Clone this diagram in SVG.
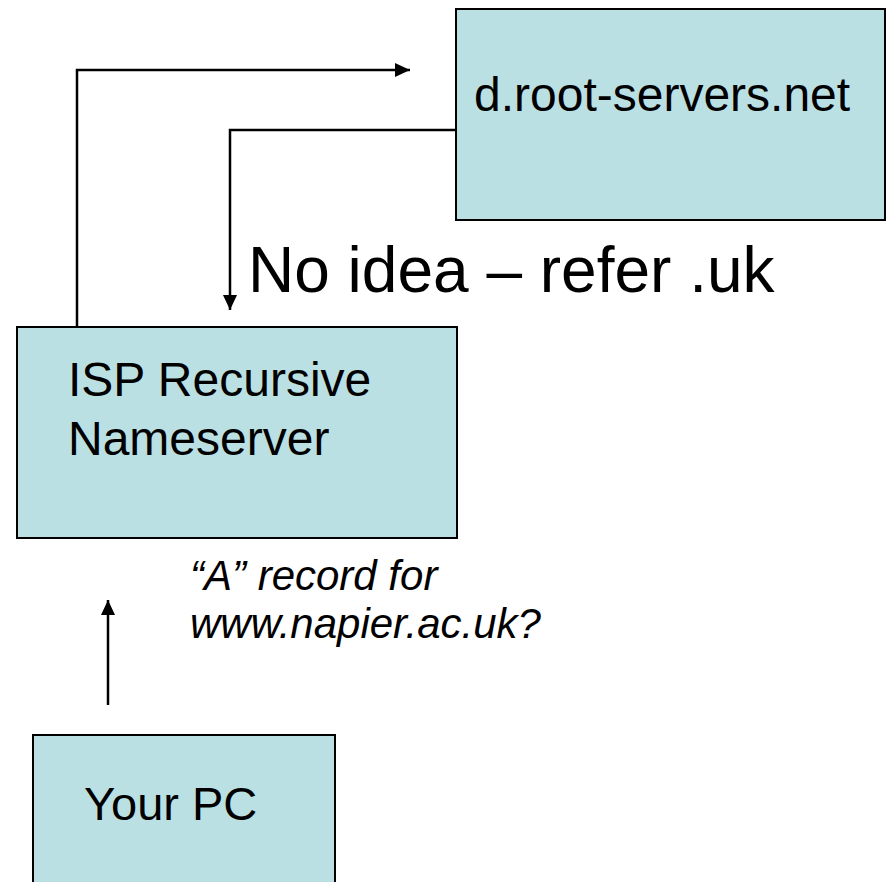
<svg xmlns="http://www.w3.org/2000/svg" width="887" height="882" viewBox="0 0 887 882">
  <style>
    .box { fill: #BBE0E3; stroke: #000; stroke-width: 2; }
    .label { font-family: "Liberation Sans", Arial, sans-serif; fill: #000; }
    .conn { fill: none; stroke: #000; stroke-width: 2.5; }
  </style>
  <defs>
    <marker id="arrow" markerUnits="userSpaceOnUse" markerWidth="16" markerHeight="14" refX="15" refY="7" orient="auto">
      <path d="M0,0 L15,7 L0,14 Z" fill="#000"/>
    </marker>
  </defs>

  <rect width="887" height="882" fill="#fff"/>

  <!-- connectors -->
  <g id="connectors">
    <!-- query from the recursive nameserver up to the root server -->
    <path class="conn" d="M77,327 L77,70 L410,70" marker-end="url(#arrow)"/>
    <!-- referral back from the root server -->
    <path class="conn" d="M456,130 L230,130 L230,310" marker-end="url(#arrow)"/>
    <!-- query from the PC to the ISP nameserver -->
    <path class="conn" d="M108,705 L108,600" marker-end="url(#arrow)"/>
  </g>

  <!-- nodes -->
  <g id="root-server">
    <rect class="box" x="456" y="9" width="429" height="211"/>
    <text class="label" x="474" y="111" font-size="48">d.root-servers.net</text>
  </g>

  <g id="isp-nameserver">
    <rect class="box" x="17" y="327" width="440" height="211"/>
    <text class="label" x="68" y="396" font-size="48">ISP Recursive</text>
    <text class="label" x="68" y="455" font-size="48">Nameserver</text>
  </g>

  <g id="your-pc">
    <rect class="box" x="33" y="735" width="302" height="160"/>
    <text class="label" x="84" y="820" font-size="47">Your PC</text>
  </g>

  <!-- message labels -->
  <g id="labels">
    <text class="label" x="248" y="292" font-size="64">No idea – refer .uk</text>
    <text class="label" x="190" y="590" font-size="42" font-style="italic">“A” record for</text>
    <text class="label" x="190" y="638" font-size="42" font-style="italic">www.napier.ac.uk?</text>
  </g>
</svg>
